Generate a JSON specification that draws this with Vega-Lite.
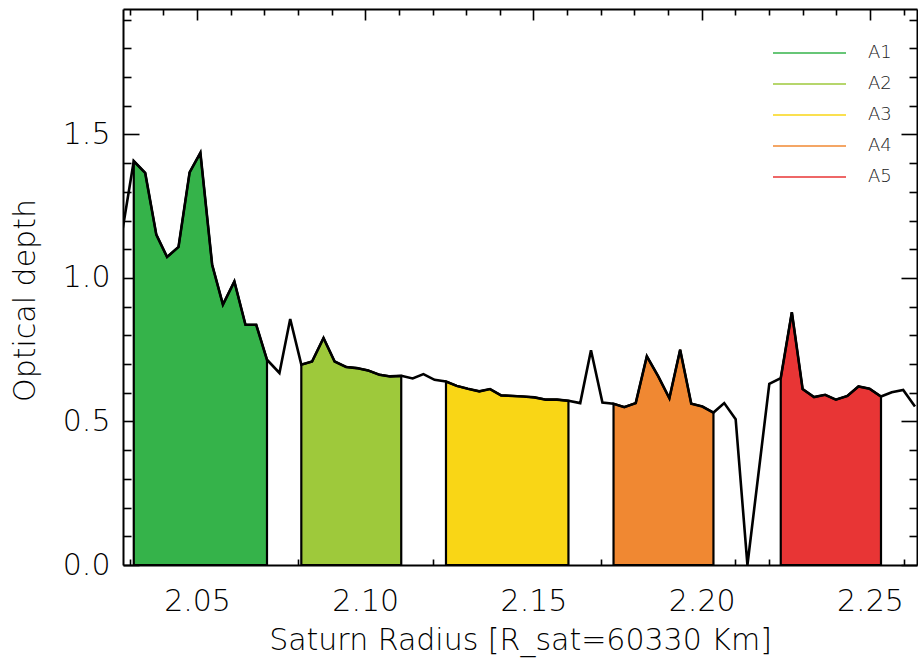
{
  "$schema": "https://vega.github.io/schema/vega-lite/v6.json",
  "width": 794,
  "height": 556,
  "autosize": {"type": "none"},
  "padding": {"left": 123, "top": 9, "right": 1, "bottom": 96},
  "background": "white",
  "config": {
    "view": {"stroke": null},
    "axis": {
      "domainColor": "black",
      "domainWidth": 2,
      "tickColor": "black",
      "tickWidth": 1.6,
      "grid": false,
      "labelFont": "DejaVu Sans",
      "labelFontSize": 30,
      "labelFontWeight": 200,
      "labelColor": "#000000",
      "titleFont": "DejaVu Sans",
      "titleFontSize": 30,
      "titleFontWeight": 200,
      "titleColor": "#000000"
    },
    "legend": {
      "orient": "none",
      "legendX": 649,
      "legendY": 35,
      "padding": 0,
      "symbolType": "stroke",
      "symbolSize": 5329,
      "symbolStrokeWidth": 1.6,
      "clipHeight": 18,
      "rowPadding": 13,
      "labelOffset": 21,
      "labelFont": "DejaVu Sans",
      "labelFontSize": 18,
      "labelFontWeight": 200,
      "labelColor": "#222222"
    }
  },
  "data": {
    "values": [
      {"r": 2.0279, "tau": 1.17, "region": null},
      {"r": 2.0312, "tau": 1.407, "region": "A1"},
      {"r": 2.0346, "tau": 1.366, "region": "A1"},
      {"r": 2.0379, "tau": 1.151, "region": "A1"},
      {"r": 2.0411, "tau": 1.073, "region": "A1"},
      {"r": 2.0445, "tau": 1.108, "region": "A1"},
      {"r": 2.0478, "tau": 1.368, "region": "A1"},
      {"r": 2.0510, "tau": 1.436, "region": "A1"},
      {"r": 2.0545, "tau": 1.046, "region": "A1"},
      {"r": 2.0577, "tau": 0.907, "region": "A1"},
      {"r": 2.0611, "tau": 0.988, "region": "A1"},
      {"r": 2.0644, "tau": 0.837, "region": "A1"},
      {"r": 2.0676, "tau": 0.837, "region": "A1"},
      {"r": 2.0708, "tau": 0.715, "region": "A1"},
      {"r": 2.0745, "tau": 0.669, "region": null},
      {"r": 2.0777, "tau": 0.857, "region": null},
      {"r": 2.0810, "tau": 0.698, "region": "A2"},
      {"r": 2.0842, "tau": 0.709, "region": "A2"},
      {"r": 2.0876, "tau": 0.791, "region": "A2"},
      {"r": 2.0909, "tau": 0.709, "region": "A2"},
      {"r": 2.0943, "tau": 0.690, "region": "A2"},
      {"r": 2.0975, "tau": 0.686, "region": "A2"},
      {"r": 2.1008, "tau": 0.678, "region": "A2"},
      {"r": 2.1042, "tau": 0.663, "region": "A2"},
      {"r": 2.1074, "tau": 0.657, "region": "A2"},
      {"r": 2.1107, "tau": 0.659, "region": "A2"},
      {"r": 2.1141, "tau": 0.650, "region": null},
      {"r": 2.1173, "tau": 0.665, "region": null},
      {"r": 2.1206, "tau": 0.645, "region": null},
      {"r": 2.1240, "tau": 0.639, "region": "A3"},
      {"r": 2.1272, "tau": 0.624, "region": "A3"},
      {"r": 2.1305, "tau": 0.614, "region": "A3"},
      {"r": 2.1339, "tau": 0.605, "region": "A3"},
      {"r": 2.1371, "tau": 0.613, "region": "A3"},
      {"r": 2.1404, "tau": 0.591, "region": "A3"},
      {"r": 2.1438, "tau": 0.589, "region": "A3"},
      {"r": 2.1470, "tau": 0.587, "region": "A3"},
      {"r": 2.1503, "tau": 0.584, "region": "A3"},
      {"r": 2.1537, "tau": 0.576, "region": "A3"},
      {"r": 2.1570, "tau": 0.576, "region": "A3"},
      {"r": 2.1604, "tau": 0.572, "region": "A3"},
      {"r": 2.1639, "tau": 0.564, "region": null},
      {"r": 2.1671, "tau": 0.748, "region": null},
      {"r": 2.1705, "tau": 0.566, "region": null},
      {"r": 2.1738, "tau": 0.562, "region": "A4"},
      {"r": 2.1770, "tau": 0.550, "region": "A4"},
      {"r": 2.1804, "tau": 0.564, "region": "A4"},
      {"r": 2.1837, "tau": 0.727, "region": "A4"},
      {"r": 2.1871, "tau": 0.657, "region": "A4"},
      {"r": 2.1904, "tau": 0.581, "region": "A4"},
      {"r": 2.1936, "tau": 0.750, "region": "A4"},
      {"r": 2.1969, "tau": 0.562, "region": "A4"},
      {"r": 2.2002, "tau": 0.552, "region": "A4"},
      {"r": 2.2035, "tau": 0.531, "region": "A4"},
      {"r": 2.2067, "tau": 0.564, "region": null},
      {"r": 2.2101, "tau": 0.508, "region": null},
      {"r": 2.2136, "tau": 0.0, "region": null},
      {"r": 2.2201, "tau": 0.631, "region": null},
      {"r": 2.2235, "tau": 0.651, "region": "A5"},
      {"r": 2.2268, "tau": 0.881, "region": "A5"},
      {"r": 2.2300, "tau": 0.613, "region": "A5"},
      {"r": 2.2334, "tau": 0.585, "region": "A5"},
      {"r": 2.2367, "tau": 0.593, "region": "A5"},
      {"r": 2.2399, "tau": 0.576, "region": "A5"},
      {"r": 2.2433, "tau": 0.589, "region": "A5"},
      {"r": 2.2466, "tau": 0.622, "region": "A5"},
      {"r": 2.2499, "tau": 0.614, "region": "A5"},
      {"r": 2.2533, "tau": 0.587, "region": "A5"},
      {"r": 2.2565, "tau": 0.602, "region": null},
      {"r": 2.2599, "tau": 0.610, "region": null},
      {"r": 2.2634, "tau": 0.552, "region": null}
    ]
  },
  "layer": [
    {
      "transform": [{"filter": "isValid(datum.region)"}],
      "mark": {"type": "line", "strokeWidth": 1.6, "clip": true},
      "encoding": {
        "x": {
          "field": "r", "type": "quantitative",
          "scale": {"domain": [2.028, 2.264], "nice": false, "zero": false},
          "axis": {
            "orient": "bottom",
            "values": [2.03, 2.04, 2.06, 2.07, 2.08, 2.09, 2.11, 2.12, 2.13, 2.14, 2.16, 2.17, 2.18, 2.19, 2.21, 2.22, 2.23, 2.24, 2.26],
            "tickSize": -6, "labels": false, "domain": false, "title": null
          }
        },
        "y": {
          "field": "tau", "type": "quantitative",
          "scale": {"domain": [0, 1.937], "nice": false},
          "axis": {
            "orient": "left",
            "values": [0.1, 0.2, 0.3, 0.4, 0.6, 0.7, 0.8, 0.9, 1.1, 1.2, 1.3, 1.4, 1.6, 1.7, 1.8, 1.9],
            "tickSize": -8, "labels": false, "domain": false, "title": null
          }
        },
        "color": {
          "field": "region", "type": "nominal",
          "scale": {
            "domain": ["A1", "A2", "A3", "A4", "A5"],
            "range": ["#35b34a", "#9ec93b", "#f9d616", "#f08832", "#e83535"]
          },
          "legend": {"title": null}
        }
      }
    },
    {
      "transform": [{"filter": "isValid(datum.region)"}],
      "mark": {"type": "area", "stroke": "black", "strokeWidth": 2.2, "clip": true},
      "encoding": {
        "x": {
          "field": "r", "type": "quantitative",
          "axis": {
            "orient": "bottom",
            "values": [2.05, 2.1, 2.15, 2.2, 2.25],
            "format": ".2f",
            "tickSize": -11,
            "labelPadding": 32,
            "title": "Saturn Radius [R_sat=60330 Km]",
            "titlePadding": 9
          }
        },
        "y": {
          "field": "tau", "type": "quantitative", "stack": null,
          "axis": {
            "orient": "left",
            "values": [0, 0.5, 1, 1.5],
            "format": ".1f",
            "tickSize": -16,
            "labelPadding": 29,
            "title": "Optical depth",
            "titleX": -83,
            "titleY": 291
          }
        },
        "color": {"field": "region", "type": "nominal", "legend": null}
      }
    },
    {
      "mark": {"type": "line", "color": "black", "strokeWidth": 2.6, "clip": true},
      "encoding": {
        "x": {
          "field": "r", "type": "quantitative",
          "axis": {
            "orient": "top",
            "values": [2.05, 2.1, 2.15, 2.2, 2.25],
            "tickSize": -11, "labels": false, "title": null
          }
        },
        "y": {
          "field": "tau", "type": "quantitative",
          "axis": {
            "orient": "right",
            "values": [0, 0.5, 1, 1.5],
            "tickSize": -16, "labels": false, "title": null
          }
        }
      }
    },
    {
      "mark": {"type": "line", "strokeOpacity": 0, "clip": true},
      "encoding": {
        "x": {
          "field": "r", "type": "quantitative",
          "axis": {
            "orient": "top",
            "values": [2.03, 2.04, 2.06, 2.07, 2.08, 2.09, 2.11, 2.12, 2.13, 2.14, 2.16, 2.17, 2.18, 2.19, 2.21, 2.22, 2.23, 2.24, 2.26],
            "tickSize": -6, "labels": false, "domain": false, "title": null
          }
        },
        "y": {
          "field": "tau", "type": "quantitative",
          "axis": {
            "orient": "right",
            "values": [0.1, 0.2, 0.3, 0.4, 0.6, 0.7, 0.8, 0.9, 1.1, 1.2, 1.3, 1.4, 1.6, 1.7, 1.8, 1.9],
            "tickSize": -8, "labels": false, "domain": false, "title": null
          }
        }
      }
    }
  ],
  "resolve": {"axis": {"x": "independent", "y": "independent"}}
}
